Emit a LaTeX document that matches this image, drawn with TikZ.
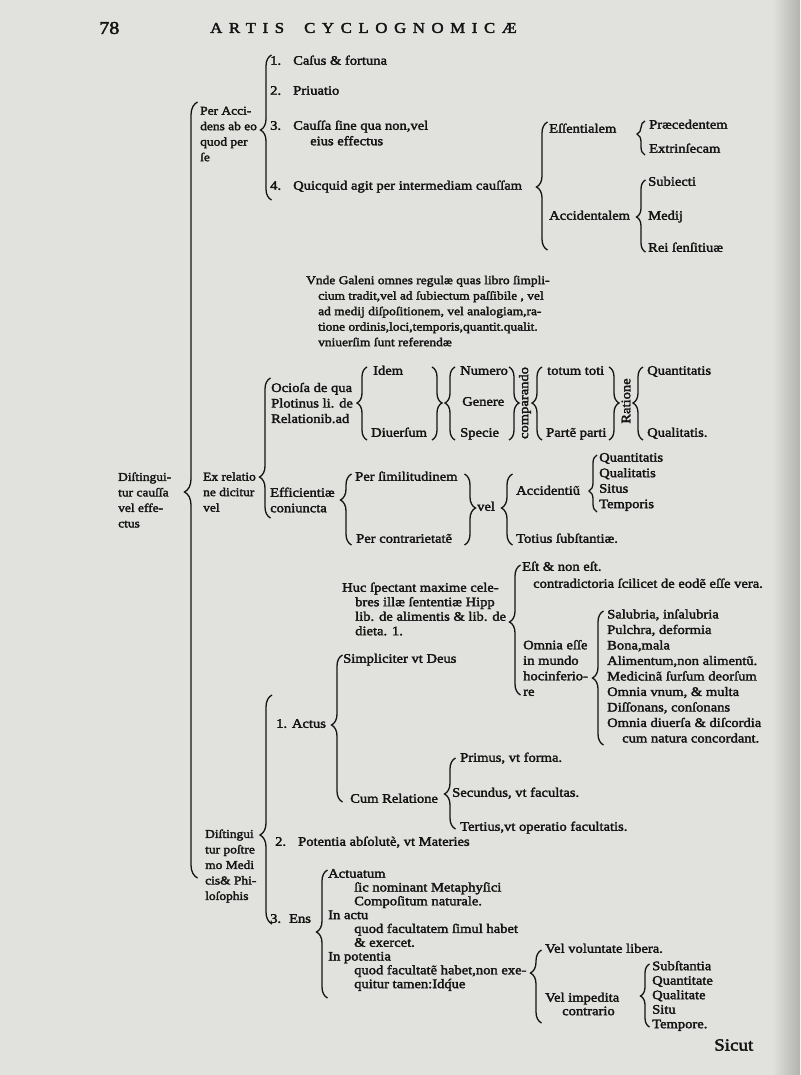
\documentclass[tikz,border=0pt]{standalone}
\usepackage{fontspec}
\setmainfont{Liberation Serif}[FakeStretch=1.12, FakeBold=2.4]
\usepackage{tikz}
\usetikzlibrary{decorations.pathreplacing}
\definecolor{ink}{RGB}{20,20,20}
\definecolor{paper}{RGB}{225,225,222}
\definecolor{edgegray}{RGB}{178,178,175}
\newcommand{\bodyfont}{\fontsize{13}{15.5}\selectfont}
\newcommand{\smallbody}{\fontsize{12}{15.5}\selectfont}
\newcommand{\itemno}[1]{\makebox[23pt][l]{#1}}
% brace opening to the right: x, top, bottom, cusp
\newcommand{\openbr}[5][11pt]{%
  \pgfmathsetmacro\brasp{(#4-#5)/(#4-#3)}%
  \pgfmathsetlengthmacro\brrs{-0.5*#1}%
  \draw[brc, decoration={brace, amplitude=#1, raise=\brrs, aspect=\brasp}] (#2,#4) -- (#2,#3);}
% brace closing to the right: x, top, bottom, cusp
\newcommand{\closebr}[5][11pt]{%
  \pgfmathsetmacro\brasp{(#5-#3)/(#4-#3)}%
  \pgfmathsetlengthmacro\brrs{-0.5*#1}%
  \draw[brc, decoration={brace, amplitude=#1, raise=\brrs, aspect=\brasp}] (#2,#3) -- (#2,#4);}
\tikzset{
  txt/.style     = {anchor=west, inner sep=0pt, font=\bodyfont, text=ink},
  oneline/.style = {txt, text height=8pt, text depth=2.5pt},
  blk/.style     = {txt, align=left},
  narrow/.style  = {blk, font=\smallbody},
  vert/.style    = {inner sep=0pt, font=\bodyfont, text=ink, rotate=90},
  brc/.style     = {draw=ink, line width=1.3pt, decorate},
}

\begin{document}
\begin{tikzpicture}[x=1pt, y=-1pt]
    % ── Page ────────────────────────────────────────────────────
    \fill[paper] (0,0) rectangle (800,1075);
    \shade[left color=paper, right color=edgegray] (772,0) rectangle (800,1075);
    \useasboundingbox (0,0) rectangle (800,1075);

    % ── Running head ────────────────────────────────────────────
    \node[txt, font=\fontsize{18}{18}\selectfont] (folio) at (99,28) {78};
    \node[txt, font=\fontsize{15}{15}\selectfont\addfontfeature{LetterSpace=44}] (head) at (210,28) {ARTIS\hspace{20pt}CYCLOGNOMICÆ};

    % ── Root ────────────────────────────────────────────────────
    \node[narrow] (dcv) at (118,500) {Diſtingui-\\tur cauſſa\\vel effe-\\ctus};
    \openbr[13pt]{191}{102}{878}{492}

    % ── Per accidens ────────────────────────────────────────────
    \node[narrow] (pa) at (200,134) {Per Acci-\\dens ab eo\\quod per\\ſe};
    \openbr{266}{55}{200}{130}
    \node[oneline] (n1) at (270,62)  {\itemno{1.}Caſus \& fortuna};
    \node[oneline] (n2) at (270,92)  {\itemno{2.}Priuatio};
    \node[blk]     (n3) at (270,133) {\itemno{3.}Cauſſa ſine qua non,vel\\\hspace*{40pt}eius effectus};
    \node[oneline] (n4) at (270,187) {\itemno{4.}Quicquid agit per intermediam cauſſam};

    \openbr{542}{122}{250}{187}
    \node[oneline] (ess) at (549,130) {Eſſentialem};
    \node[oneline] (acc) at (549,217) {Accidentalem};
    \openbr[8pt]{641}{121}{155}{134}
    \node[oneline] (prc) at (649,126) {Præcedentem};
    \node[oneline] (ext) at (649,150) {Extrinſecam};
    \openbr[9pt]{641}{180}{252}{217}
    \node[oneline] (sub) at (648,183) {Subiecti};
    \node[oneline] (med) at (648,217) {Medij};
    \node[oneline] (rei) at (648,249) {Rei ſenſitiuæ};

    \node[blk, font=\fontsize{12}{15.5}\selectfont] (vnd) at (306,311) {Vnde Galeni omnes regulæ quas libro ſimpli-\\\hspace*{12pt}cium tradit,vel ad ſubiectum paſſibile , vel\\\hspace*{12pt}ad medij diſpoſitionem, vel analogiam,ra-\\\hspace*{12pt}tione ordinis,loci,temporis,quantit.qualit.\\\hspace*{12pt}vniuerſim ſunt referendæ};

    % ── Ex relatione ────────────────────────────────────────────
    \node[narrow] (exr) at (203,492) {Ex relatio\\ne dicitur\\vel};
    \openbr{265}{378}{518}{477}

    \node[blk] (oci) at (271,403) {Ocioſa de qua\\Plotinus li. de\\Relationib.ad};
    \openbr[10pt]{362}{367}{440}{403}
    \node[oneline] (ide) at (373,372) {Idem};
    \node[oneline] (div) at (371,434) {Diuerſum};
    \closebr[10pt]{437}{367}{440}{403}
    \openbr[10pt]{450}{367}{440}{403}
    \node[oneline] (num) at (460,372) {Numero};
    \node[oneline] (gen) at (462,403) {Genere};
    \node[oneline] (spc) at (460,434) {Specie};
    \closebr[10pt]{514}{367}{440}{403}
    \node[vert] (cmp) at (525,403) {comparando};
    \openbr[10pt]{537}{367}{440}{403}
    \node[oneline] (tot) at (547,372) {totum toti};
    \node[oneline] (prt) at (546,434) {Partẽ parti};
    \closebr[10pt]{614}{367}{440}{403}
    \node[vert] (rat) at (626,401) {Ratione};
    \openbr[10pt]{638}{367}{440}{403}
    \node[oneline] (qnt) at (647,372) {Quantitatis};
    \node[oneline] (qlt) at (647,434) {Qualitatis.};

    \node[blk] (eff) at (270,500) {Efficientiæ\\coniuncta};
    \openbr{346}{474}{545}{500}
    \node[oneline] (sim) at (355,478) {Per ſimilitudinem};
    \node[oneline] (con) at (356,540) {Per contrarietatẽ};
    \closebr{470}{474}{545}{508}
    \node[oneline] (vel) at (477,508) {vel};
    \openbr{507}{474}{545}{508}
    \node[oneline] (acd) at (516,492) {Accidentiũ};
    \node[oneline] (tsb) at (516,540) {Totius ſubſtantiæ.};
    \openbr[8pt]{593}{455}{512}{491}
    \node[blk] (acl) at (599,482) {Quantitatis\\Qualitatis\\Situs\\Temporis};

    % ── Huc spectant ────────────────────────────────────────────
    \node[blk, font=\fontsize{13}{14.5}\selectfont] (huc) at (342,609) {Huc ſpectant maxime cele-\\\hspace*{13pt}bres illæ ſententiæ Hipp\\\hspace*{13pt}lib. de alimentis \& lib. de\\\hspace*{13pt}dieta. 1.};
    \openbr{515}{565}{695}{622}
    \node[oneline] (est) at (522,568) {Eſt \& non eſt.};
    \node[oneline] (ctr) at (533,585) {contradictoria ſcilicet de eodẽ eſſe vera.};
    \node[blk] (oms) at (523,668) {Omnia eſſe\\in mundo\\hocinferio-\\re};
    \openbr{598}{611}{745}{678}
    \node[blk] (lst) at (607,676) {Salubria, inſalubria\\Pulchra, deformia\\Bona,mala\\Alimentum,non alimentũ.\\Medicinã ſurſum deorſum\\Omnia vnum, \& multa\\Diſſonans, conſonans\\Omnia diuerſa \& diſcordia\\\hspace*{15pt}cum natura concordant.};

    % ── Postremo: actus, potentia, ens ──────────────────────────
    \openbr[12pt]{266}{695}{924}{835}
    \node[narrow] (dpm) at (205,866) {Diſtingui\\tur poſtre\\mo Medi\\cis\& Phi-\\loſophis};

    \node[oneline] (act) at (276,725) {1. Actus};
    \openbr{337}{655}{802}{725}
    \node[oneline] (smp) at (343,660) {Simpliciter vt Deus};
    \node[oneline] (cum) at (350,800) {Cum Relatione};
    \openbr{450}{758}{829}{794}
    \node[oneline] (pri) at (460,759) {Primus, vt forma.};
    \node[oneline] (sec) at (452,794) {Secundus, vt facultas.};
    \node[oneline] (ter) at (460,828) {Tertius,vt operatio facultatis.};

    \node[oneline] (pot) at (275,843) {\itemno{2.}Potentia abſolutè, vt Materies};

    \node[oneline] (ens) at (270,920) {3.\hspace{8pt}Ens};
    \openbr{322}{870}{998}{932}
    \node[blk, font=\fontsize{13}{13.8}\selectfont] (ensl) at (328,930) {Actuatum\\\hspace*{26pt}ſic nominant Metaphyſici\\\hspace*{26pt}Compoſitum naturale.\\In actu\\\hspace*{26pt}quod facultatem ſimul habet\\\hspace*{26pt}\& exercet.\\In potentia\\\hspace*{26pt}quod facultatẽ habet,non exe-\\\hspace*{26pt}quitur tamen:Idq́ue};
    \openbr{536}{950}{1023}{973}
    \node[oneline] (vvl) at (545,950) {Vel voluntate libera.};
    \node[blk, font=\fontsize{13}{13.5}\selectfont] (vim) at (545,1004) {Vel impedita\\\hspace*{17pt}contrario};
    \openbr[9pt]{645}{964}{1027}{996}
    \node[blk, font=\fontsize{13}{14.5}\selectfont] (lst2) at (652,996) {Subſtantia\\Quantitate\\Qualitate\\Situ\\Tempore.};

    % ── Catchword ───────────────────────────────────────────────
    \node[txt, font=\fontsize{17}{17}\selectfont] (sic) at (714,1045) {Sicut};
\end{tikzpicture}
\end{document}
